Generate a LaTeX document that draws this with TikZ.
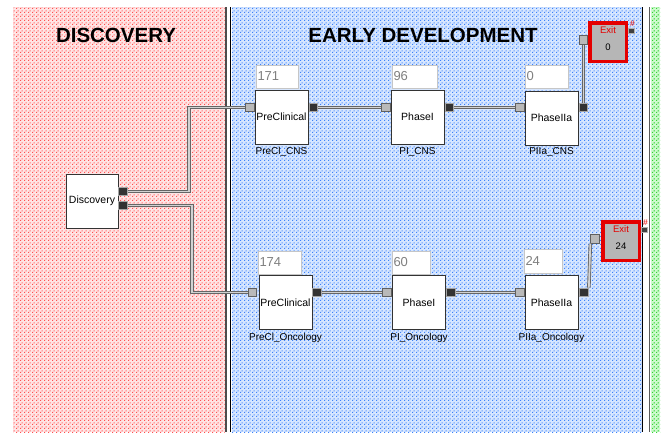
\documentclass[tikz,border=0pt]{standalone}
\usepackage{fontspec}
\setmainfont{Liberation Sans}
\usetikzlibrary{patterns,calc}

% fine two-dot dither used for the swim-lane backgrounds
\pgfdeclarepatternformonly{dither}{\pgfqpoint{0pt}{0pt}}{\pgfqpoint{4pt}{4pt}}{\pgfqpoint{4pt}{4pt}}{%
  \pgfpathrectangle{\pgfqpoint{0pt}{0pt}}{\pgfqpoint{1.4pt}{1.4pt}}%
  \pgfpathrectangle{\pgfqpoint{2pt}{2pt}}{\pgfqpoint{1.4pt}{1.4pt}}%
  \pgfusepath{fill}}

\definecolor{discbg}{RGB}{255,228,228}
\definecolor{discdot}{RGB}{255,80,80}
\definecolor{devbg}{RGB}{214,230,255}
\definecolor{devdot}{RGB}{60,130,250}
\definecolor{grnbg}{RGB}{205,250,205}
\definecolor{grndot}{RGB}{50,210,50}
\definecolor{exitfill}{RGB}{182,182,182}
\definecolor{exitred}{RGB}{228,0,0}

\begin{document}
\begin{tikzpicture}[x=1pt,y=-1pt,
  lane title/.style={font=\bfseries\fontsize{20.5}{22}\selectfont, inner sep=0pt},
  proc/.style={draw=black!80, fill=white, minimum width=53pt, minimum height=54pt,
    inner sep=0pt, font=\fontsize{10.5}{12}\selectfont},
  valbox/.style={draw=gray!45, fill=white, minimum height=23pt, inner sep=0pt},
  valtxt/.style={anchor=west, text=gray, font=\fontsize{13}{14}\selectfont, inner sep=1.5pt},
  lbl/.style={font=\fontsize{10}{11}\selectfont, inner sep=0pt, anchor=north},
  inport/.style={draw=gray!75!black, fill=gray!55, line width=0.8pt,
    minimum size=8.5pt, inner sep=0pt},
  outport/.style={draw=gray!70, fill=black!80, line width=1.2pt,
    minimum size=8.5pt, inner sep=0pt},
  smallport/.style={draw=gray!60, fill=black!75, line width=0.8pt,
    minimum size=5.5pt, inner sep=0pt},
  exitbox/.style={draw=exitred, line width=3.5pt, fill=exitfill,
    minimum width=36.5pt, minimum height=38.5pt, inner sep=0pt},
  exittxt/.style={font=\fontsize{9.5}{10}\selectfont, inner sep=0pt},
  hash/.style={font=\fontsize{8.5}{8.5}\selectfont, text=exitred, inner sep=0pt},
  pipe/.style={draw=black!60, line width=0.9pt, double=gray!35, double distance=1.7pt}
]
\useasboundingbox (0,0) rectangle (664,432);
\fill[white] (0,0) rectangle (664,432);

% swim lanes
\fill[discbg] (13,7) rectangle (224.5,432);
\fill[pattern=dither, pattern color=discdot] (13,7) rectangle (224.5,432);
\fill[devbg] (232,7) rectangle (641.5,432);
\fill[pattern=dither, pattern color=devdot] (232,7) rectangle (641.5,432);
\fill[grnbg] (651,7) rectangle (660,432);
\fill[pattern=dither, pattern color=grndot] (651,7) rectangle (660,432);

% lane dividers
\draw[gray!60!black, line width=2pt] (225.5,7) -- (225.5,432);
\draw[black, line width=1.5pt] (230.5,7) -- (230.5,432);
\draw[black, line width=1.5pt] (642.5,7) -- (642.5,432);
\draw[gray!70!black, line width=1pt] (649.5,7) -- (649.5,432);

% lane titles
\node[lane title] (tdisc) at (116,35.5) {DISCOVERY};
\node[lane title] (tdev) at (423,35.5) {EARLY DEVELOPMENT};

% discovery source
\node[proc, minimum width=52pt] (disc) at (92,201) {Discovery};
\node[outport] (dout1) at (123,191.5) {};
\node[outport] (dout2) at (123,205.5) {};

% CNS track
\node[proc] (pc1) at (281.5,117) {PreClinical};
\node[proc] (pi1) at (417.5,117) {PhaseI};
\node[proc] (pa1) at (551.5,118) {PhaseIIa};
\node[lbl] (lpc1) at ($(pc1.south)+(0,3)$) {PreCl\_CNS};
\node[lbl] (lpi1) at ($(pi1.south)+(0,3)$) {PI\_CNS};
\node[lbl] (lpa1) at ($(pa1.south)+(0,2.5)$) {PIIa\_CNS};

\node[valbox, minimum width=42pt] (v1) at (277,76.5) {};
\node[valtxt] at (v1.west) {171};
\node[valbox, minimum width=45pt] (v2) at (414.5,76.5) {};
\node[valtxt] at (v2.west) {96};
\node[valbox, minimum width=43pt] (v3) at (546.5,76.5) {};
\node[valtxt] at (v3.west) {0};

\node[inport]  (pc1in)  at (250,107.5) {};
\node[outport] (pc1out) at (313.5,107.5) {};
\node[inport]  (pi1in)  at (386,107.5) {};
\node[outport] (pi1out) at (449.5,107.5) {};
\node[inport]  (pa1in)  at (520,107.5) {};
\node[outport] (pa1out) at (583.5,107.5) {};

\node[exitbox] (x1) at (608,42) {};
\node[exittxt, text=exitred] at ($(x1.north)+(0,9.5)$) {Exit};
\node[exittxt] at ($(x1.north)+(0,26)$) {0};
\node[inport] (x1in) at (583.5,40) {};
\node[smallport] (x1out) at (631.5,31) {};
\node[hash] at (632.5,23.5) {\#};

% Oncology track
\node[proc] (pc2) at (285.5,302.5) {PreClinical};
\node[proc] (pi2) at (419,302.5) {PhaseI};
\node[proc] (pa2) at (551.5,302.5) {PhaseIIa};
\node[lbl] (lpc2) at ($(pc2.south)+(0,3)$) {PreCl\_Oncology};
\node[lbl] (lpi2) at ($(pi2.south)+(0,3)$) {PI\_Oncology};
\node[lbl] (lpa2) at ($(pa2.south)+(0,3)$) {PIIa\_Oncology};

\node[valbox, minimum width=43pt] (v4) at (279.5,262.5) {};
\node[valtxt] at (v4.west) {174};
\node[valbox, minimum width=38pt] (v5) at (411,262.5) {};
\node[valtxt] at (v5.west) {60};
\node[valbox, minimum width=38pt, minimum height=24pt] (v6) at (543,261) {};
\node[valtxt] at (v6.west) {24};

\node[inport]  (pc2in)  at (252.5,292.5) {};
\node[outport] (pc2out) at (317,292.5) {};
\node[inport]  (pi2in)  at (387,292.5) {};
\node[outport] (pi2out) at (451,292.5) {};
\node[inport]  (pa2in)  at (520,292.5) {};
\node[outport] (pa2out) at (584,292.5) {};

\node[exitbox] (x2) at (621,241) {};
\node[exittxt, text=exitred] at ($(x2.north)+(0,9.5)$) {Exit};
\node[exittxt] at ($(x2.north)+(0,26)$) {24};
\node[inport] (x2in) at (595,239) {};
\node[smallport] (x2out) at (644.5,230) {};
\node[hash] at (645.5,222.5) {\#};

% flow pipes
\draw[pipe] (dout1.east) -- ++(61,0) |- (pc1in.west);
\draw[pipe] (dout2.east) -- ++(64,0) |- (pc2in.west);
\draw[pipe] (pc1out.east) -- (pi1in.west);
\draw[pipe] (pi1out.east) -- (pa1in.west);
\draw[pipe] (pa1out.north) -- (x1in.south);
\draw[pipe] (pc2out.east) -- (pi2in.west);
\draw[pipe] (pi2out.east) -- (pa2in.west);
\draw[pipe] (pa2out.north east) -- (x2in.south west);
\end{tikzpicture}
\end{document}
